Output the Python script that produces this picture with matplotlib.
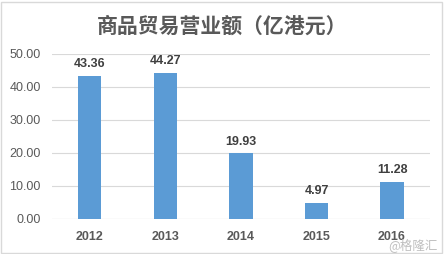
import numpy as np
import matplotlib
matplotlib.use('Agg')
import matplotlib.pyplot as plt
from matplotlib.patches import Rectangle

plt.rcParams['font.family'] = ['Noto Sans CJK SC', 'DejaVu Sans']

## data
years = ['2012', '2013', '2014', '2015', '2016']
revenue = [43.36, 44.27, 19.93, 4.97, 11.28]
yticks = [0, 10, 20, 30, 40, 50]

## plot
fig = plt.figure(figsize=(4.44, 2.54), dpi=100)
ax = fig.add_axes([0.117, 0.138, 0.851, 0.650])
x = np.arange(len(years))
ax.bar(x, revenue, width=0.31, color='#5b9bd5', zorder=2)
for xi, v in zip(x, revenue):
	ax.text(xi, v + 1.6, '%.2f' % v, ha='center', va='bottom', fontsize=9,
			fontweight='bold', color='#404040', family=['Liberation Sans', 'DejaVu Sans'])

ax.set_xlim(-0.5, len(years) - 0.5)
ax.set_ylim(0, 50)
ax.set_yticks(yticks)
ax.set_yticklabels(['%.2f' % t for t in yticks], fontsize=9, color='#595959',
				   family=['Liberation Sans', 'DejaVu Sans'])
ax.set_xticks(x)
ax.set_xticklabels(years, fontsize=9, color='#595959', fontweight='bold',
				   family=['Liberation Sans', 'DejaVu Sans'])
ax.tick_params(length=0, pad=8)
ax.tick_params(axis='x', pad=9)
ax.grid(axis='y', color='#d9d9d9', linewidth=0.8, zorder=0)
for s in ax.spines.values():
	s.set_visible(False)
ax.axhline(0, color='#d9d9d9', linewidth=0.8, zorder=1)

fig.text(0.5, 0.895, '商品贸易营业额（亿港元）', ha='center', va='center',
		 fontsize=15, fontweight='bold', color='#595959')
fig.text(0.985, 0.035, '@格隆汇', ha='right', va='center', fontsize=9, color='#bfbfbf')

# outer frame
fig.patches.append(Rectangle((0.002, 0.004), 0.994, 0.99, transform=fig.transFigure,
							 fill=False, edgecolor='#d9d9d9', linewidth=1))

fig.savefig('out.png', dpi=100)
